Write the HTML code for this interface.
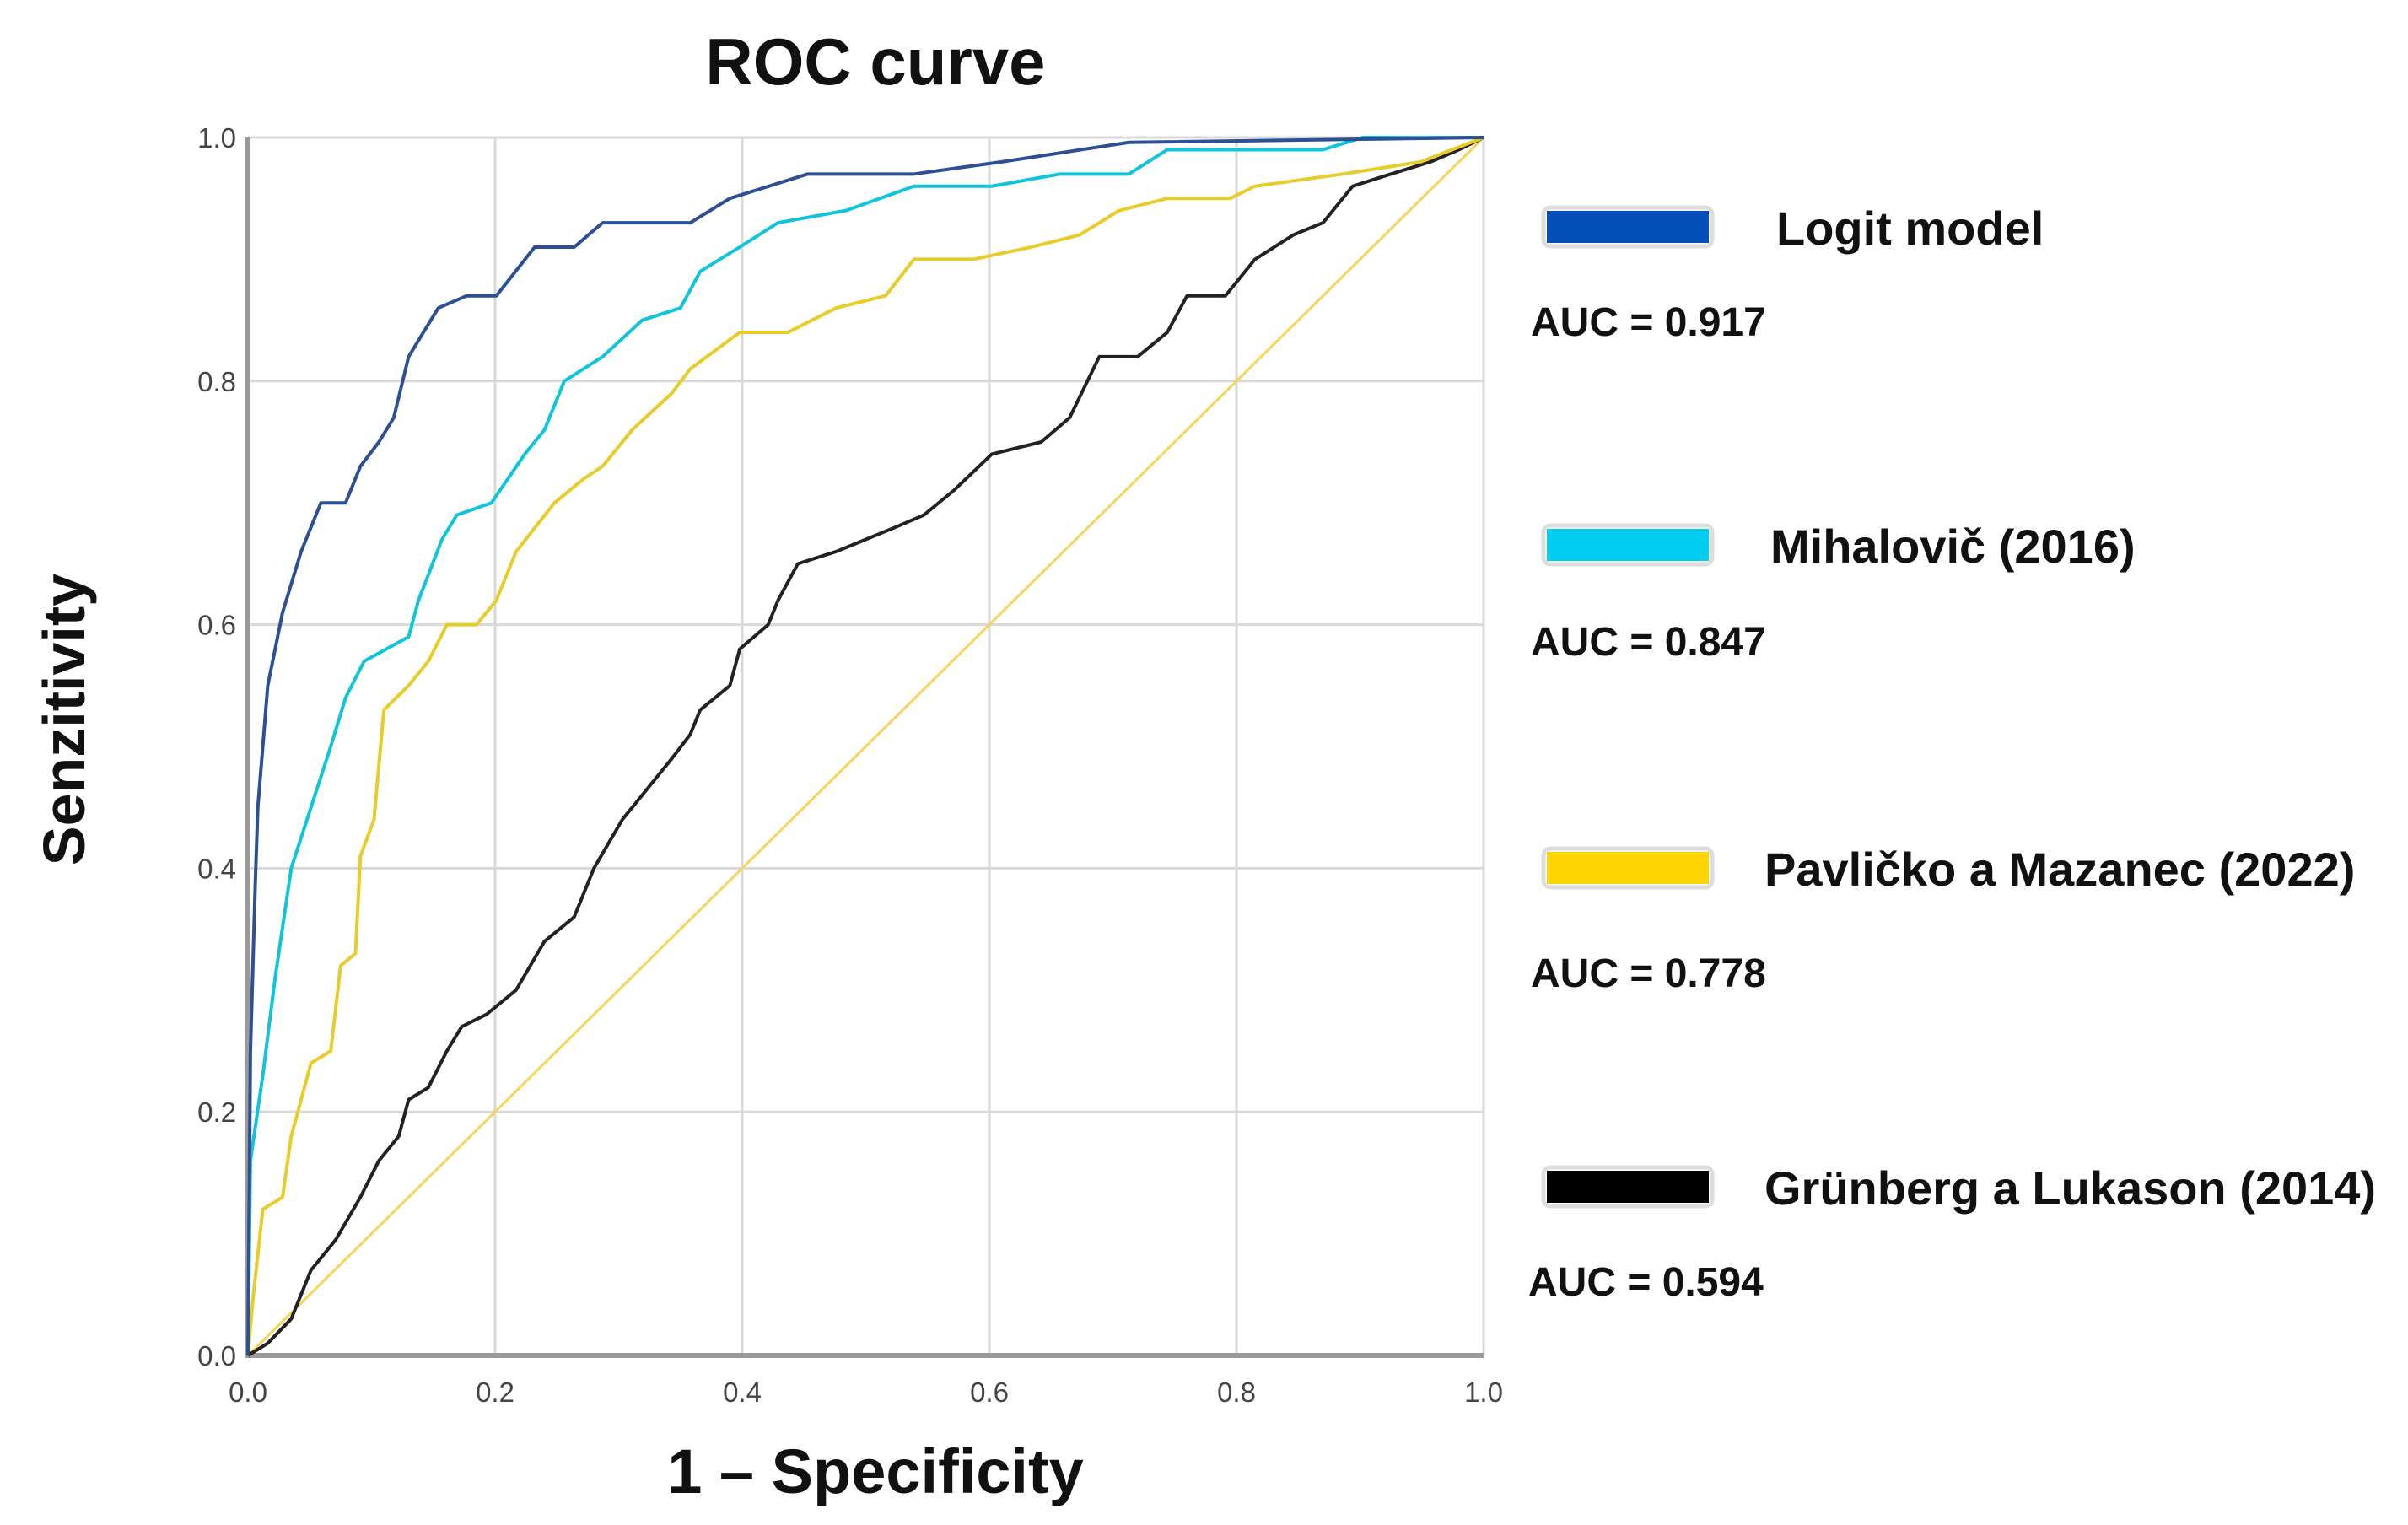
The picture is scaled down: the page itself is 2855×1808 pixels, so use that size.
<!DOCTYPE html>
<html><head><meta charset="utf-8"><style>
html,body{margin:0;padding:0;background:#fff;}
svg{display:block;}
text{font-family:"Liberation Sans",sans-serif;}
</style></head><body>
<svg id="chart" width="2855" height="1808" viewBox="0 0 2855 1808" xmlns="http://www.w3.org/2000/svg">
<text x="1038" y="100" font-size="78" font-weight="bold" text-anchor="middle" fill="#111">ROC curve</text>
<g id="grid"></g>
<g id="ticks"></g>
<g id="series"></g>
<text x="1038" y="1770" font-size="74" font-weight="bold" text-anchor="middle" fill="#111">1 – Specificity</text>
<text transform="translate(100,853) rotate(-90)" font-size="70" font-weight="bold" text-anchor="middle" fill="#111">Senzitivity</text>

<g font-weight="bold" fill="#111">
 <g>
  <rect x="1830" y="246" width="200" height="46" rx="8" fill="#fff" stroke="#ddd" stroke-width="5"/>
  <rect x="1834" y="250" width="192" height="38" fill="#0050b8"/>
  <text x="2106" y="290" font-size="56">Logit model</text>
  <text x="1815" y="398" font-size="48">AUC = 0.917</text>
 </g>
 <g>
  <rect x="1830" y="623" width="200" height="46" rx="8" fill="#fff" stroke="#ddd" stroke-width="5"/>
  <rect x="1834" y="627" width="192" height="38" fill="#00cdf0"/>
  <text x="2099" y="667" font-size="56">Mihalovič (2016)</text>
  <text x="1815" y="777" font-size="48">AUC = 0.847</text>
 </g>
 <g>
  <rect x="1830" y="1006" width="200" height="46" rx="8" fill="#fff" stroke="#ddd" stroke-width="5"/>
  <rect x="1834" y="1010" width="192" height="38" fill="#ffd400"/>
  <text x="2092" y="1050" font-size="56">Pavličko a Mazanec (2022)</text>
  <text x="1815" y="1170" font-size="48">AUC = 0.778</text>
 </g>
 <g>
  <rect x="1830" y="1384" width="200" height="46" rx="8" fill="#fff" stroke="#ddd" stroke-width="5"/>
  <rect x="1834" y="1388" width="192" height="38" fill="#000"/>
  <text x="2092" y="1428" font-size="56">Grünberg a Lukason (2014)</text>
  <text x="1812" y="1536" font-size="48">AUC = 0.594</text>
 </g>
</g>
</svg>
<script>
const tickValues=[0,0.2,0.4,0.6,0.8,1.0];
const tickLabels=["0.0","0.2","0.4","0.6","0.8","1.0"];
const logitFpr=[0,0.002,0.006,0.008,0.016,0.028,0.043,0.059,0.079,0.091,0.106,0.118,0.130,0.154,0.177,0.201,0.232,0.264,0.287,0.358,0.390,0.453,0.539,0.610,0.713,1];
const logitTpr=[0,0.25,0.39,0.45,0.55,0.61,0.66,0.70,0.70,0.73,0.75,0.77,0.82,0.86,0.87,0.87,0.91,0.91,0.93,0.93,0.95,0.97,0.97,0.98,0.996,1];
const mihaFpr=[0,0.002,0.012,0.022,0.035,0.051,0.067,0.079,0.094,0.130,0.138,0.157,0.169,0.197,0.224,0.240,0.256,0.287,0.319,0.350,0.366,0.398,0.429,0.484,0.539,0.602,0.657,0.713,0.744,0.870,0.902,1];
const mihaTpr=[0,0.16,0.23,0.31,0.40,0.45,0.50,0.54,0.57,0.59,0.62,0.67,0.69,0.70,0.74,0.76,0.80,0.82,0.85,0.86,0.89,0.91,0.93,0.94,0.96,0.96,0.97,0.97,0.99,0.99,1,1];
const pavFpr=[0,0.004,0.012,0.028,0.035,0.043,0.051,0.067,0.075,0.087,0.091,0.102,0.110,0.130,0.146,0.161,0.185,0.201,0.217,0.248,0.272,0.287,0.311,0.343,0.358,0.398,0.437,0.476,0.516,0.539,0.563,0.587,0.634,0.673,0.705,0.744,0.795,0.815,0.886,0.949,1];
const pavTpr=[0,0.046,0.12,0.13,0.18,0.21,0.24,0.25,0.32,0.33,0.41,0.44,0.53,0.55,0.57,0.60,0.60,0.62,0.66,0.70,0.72,0.73,0.76,0.79,0.81,0.84,0.84,0.86,0.87,0.90,0.90,0.90,0.91,0.92,0.94,0.95,0.95,0.96,0.97,0.98,1];
const grunFpr=[0,0.016,0.035,0.051,0.071,0.091,0.106,0.122,0.130,0.146,0.161,0.173,0.193,0.217,0.240,0.264,0.280,0.303,0.319,0.343,0.358,0.366,0.390,0.398,0.421,0.429,0.445,0.476,0.524,0.547,0.571,0.602,0.642,0.665,0.689,0.720,0.744,0.760,0.791,0.815,0.846,0.870,0.894,0.925,0.957,0.980,1];
const grunTpr=[0,0.01,0.03,0.07,0.095,0.13,0.16,0.18,0.21,0.22,0.25,0.27,0.28,0.30,0.34,0.36,0.40,0.44,0.46,0.49,0.51,0.53,0.55,0.58,0.60,0.62,0.65,0.66,0.68,0.69,0.71,0.74,0.75,0.77,0.82,0.82,0.84,0.87,0.87,0.90,0.92,0.93,0.96,0.97,0.98,0.99,1];

const NS="http://www.w3.org/2000/svg";
const X0=294,X1=1759,Y0=1607,Y1=163;
const sx=v=>X0+v*(X1-X0);
const sy=v=>Y0-v*(Y0-Y1);
function mk(tag,attrs,parent){const e=document.createElementNS(NS,tag);for(const k in attrs)e.setAttribute(k,attrs[k]);parent.appendChild(e);return e;}
const grid=document.getElementById('grid'),ticks=document.getElementById('ticks'),series=document.getElementById('series');
tickValues.forEach((v,i)=>{
 if(v>0){
  const gv=mk('line',{x1:sx(v),x2:sx(v),y1:Y1,y2:Y0,stroke:'#d9d9d9','stroke-width':3},grid);
  
  
  const gh=mk('line',{x1:X0,x2:X1,y1:sy(v),y2:sy(v),stroke:'#d9d9d9','stroke-width':3},grid);
  
  
 }
 const tx=mk('text',{x:sx(v),y:1662,'font-size':33,'text-anchor':'middle',fill:'#444'},ticks);
 tx.textContent=tickLabels[i];
 
 
 const ty=mk('text',{x:280,y:sy(v)+12,'font-size':33,'text-anchor':'end',fill:'#444'},ticks);
 ty.textContent=tickLabels[i];
 
 
});
const ax=mk('path',{d:`M${X0},${Y1} V${Y0} H${X1}`,fill:'none',stroke:'#9a9a9a','stroke-width':6},grid);


const diag=mk('line',{x1:sx(0),y1:sy(0),x2:sx(1),y2:sy(1),stroke:'#f5d55a','stroke-width':3},series);


function curve(fx,fy,color,name){
 const pts=fx.map((v,i)=>sx(v)+','+sy(fy[i])).join(' ');
 const p=mk('polyline',{points:pts,fill:'none',stroke:color,'stroke-width':4,'stroke-linejoin':'round'},series);
 
 
}
curve(grunFpr,grunTpr,'#222','curve-grunberg');
curve(pavFpr,pavTpr,'#e8cc2a','curve-pavlicko');
curve(mihaFpr,mihaTpr,'#10c4dc','curve-mihalovic');
curve(logitFpr,logitTpr,'#2d4f96','curve-logit');
</script>
</body></html>
